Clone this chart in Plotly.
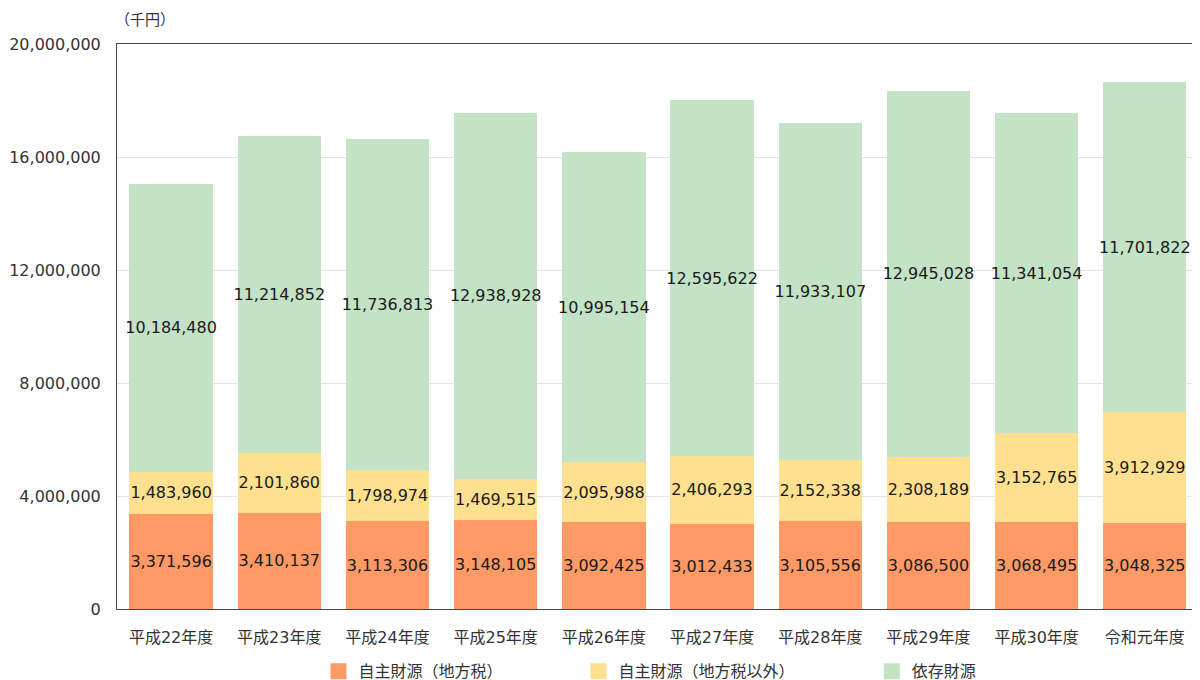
import plotly.graph_objects as go

years = ['平成22年度', '平成23年度', '平成24年度', '平成25年度', '平成26年度',
         '平成27年度', '平成28年度', '平成29年度', '平成30年度', '令和元年度']
local_tax = [3371596, 3410137, 3113306, 3148105, 3092425, 3012433, 3105556, 3086500, 3068495, 3048325]
own_other = [1483960, 2101860, 1798974, 1469515, 2095988, 2406293, 2152338, 2308189, 3152765, 3912929]
dependent = [10184480, 11214852, 11736813, 12938928, 10995154, 12595622, 11933107, 12945028, 11341054, 11701822]
y_ticks = [0, 4000000, 8000000, 12000000, 16000000, 20000000]

FONT = 'DejaVu Sans, Noto Sans CJK JP, sans-serif'

# page body has an 8px margin and only ~1192px of the window is visible,
# so the figure is 1184 wide starting at x=8
series = [
    ('自主財源（地方税）', local_tax, '#FF9966', 'legend', 0.1874),
    ('自主財源（地方税以外）', own_other, '#FFE08F', 'legend2', 0.4292),
    ('依存財源', dependent, '#C3E2C6', 'legend3', 0.7022),
]

fig = go.Figure()
for name, vals, col, lg, lx in series:
    fig.add_trace(go.Bar(
        name=name, x=years, y=vals,
        marker=dict(color=col, line=dict(width=0)),
        text=['{:,}'.format(v) for v in vals],
        textposition='inside', insidetextanchor='middle', textangle=0,
        textfont=dict(family=FONT, size=16, color='#1a1a1a'),
        showlegend=False, hoverinfo='skip', cliponaxis=False, constraintext='none',
    ))
    # bigger square swatch for the legend
    fig.add_trace(go.Scatter(
        name=name, x=[None], y=[None], mode='markers',
        marker=dict(symbol='square', size=16, color=col),
        legend=lg, showlegend=True, hoverinfo='skip',
    ))

legend_common = dict(orientation='h', xanchor='left', yanchor='middle', yref='container',
                     y=0.013, font=dict(family=FONT, size=16, color='#333'),
                     bgcolor='rgba(0,0,0,0)', borderwidth=0)
fig.update_layout(
    legend=dict(x=series[0][4], **legend_common),
    legend2=dict(x=series[1][4], **legend_common),
    legend3=dict(x=series[2][4], **legend_common),
)

fig.update_layout(
    barmode='stack', bargap=0.23,
    width=1184, height=672,
    margin=dict(l=109, r=0, t=36, b=71),
    plot_bgcolor='white', paper_bgcolor='white',
    font=dict(family=FONT, size=16, color='#333'),
    showlegend=True,
)

fig.update_xaxes(range=[-0.5, 9.436], showline=True, linecolor='#444', linewidth=1, mirror=True,
                 ticks='', ticklabelstandoff=14, tickfont=dict(size=16))
fig.update_yaxes(range=[0, 20000000], tickvals=y_ticks, tickformat=',', showgrid=True,
                 gridcolor='#e3e3e3', gridwidth=1, showline=True, linecolor='#444', linewidth=1,
                 ticks='', ticklabelstandoff=12, zeroline=False, tickfont=dict(size=16))

fig.add_annotation(text='（千円）', xref='paper', yref='paper', x=0, y=1, xanchor='left',
                   yanchor='bottom', yshift=13, xshift=-4, showarrow=False,
                   font=dict(family=FONT, size=15, color='#333'))

fig.write_html('out.html')
